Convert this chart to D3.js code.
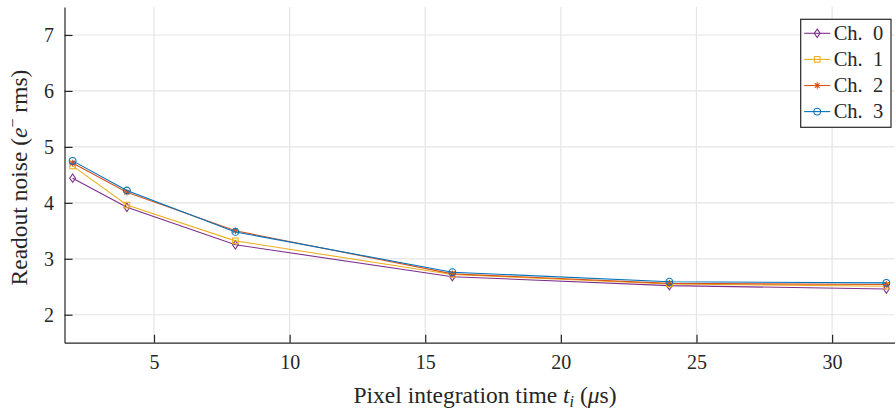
<!DOCTYPE html>
<html>
<head>
<meta charset="utf-8">
<script src="https://cdn.jsdelivr.net/npm/d3@7"></script>
<style>
  body { margin: 0; background: #fff; }
</style>
</head>
<body>
<div id="chart"></div>
<script>
// integration times (us)
var times = [2, 4, 8, 16, 24, 32];
var channels = ["Ch. 0", "Ch. 1", "Ch. 2", "Ch. 3"];
var ch0 = [4.44, 3.92, 3.25, 2.68, 2.52, 2.46];
var ch1 = [4.66, 3.96, 3.32, 2.72, 2.55, 2.51];
var ch2 = [4.71, 4.19, 3.50, 2.73, 2.56, 2.54];
var ch3 = [4.75, 4.22, 3.48, 2.76, 2.59, 2.57];
var xTicks = [5, 10, 15, 20, 25, 30];
var yTicks = [2, 3, 4, 5, 6, 7];
var colors = ["#7E2F8E", "#EDB120", "#D95319", "#0072BD"];
var markers = ["diamond", "square", "star", "circle"];

var FONT = "Liberation Serif";
var INK = "#262626";

var series = [ch0, ch1, ch2, ch3].map(function (vals, i) {
    return {
        name: channels[i], color: colors[i], marker: markers[i],
        values: vals.map(function (v, j) { return { t: times[j], v: v }; })
    };
});

var W = 896, H = 411;
var margin = { top: 7, right: 1.5, bottom: 68.3, left: 64.5 };
var width = W - margin.left - margin.right,
    height = H - margin.top - margin.bottom;

var svg = d3.select("#chart").append("svg")
    .attr("width", W).attr("height", H)
    .attr("font-family", FONT);
var g = svg.append("g")
    .attr("transform", "translate(" + margin.left + "," + margin.top + ")");

var x = d3.scaleLinear().domain([1.7, 32.3]).range([0, width]);
var y = d3.scaleLinear().domain([1.5, 7.5]).range([height, 0]);

// grid
g.selectAll(".gx").data(xTicks).enter().append("line")
    .attr("x1", function (d) { return x(d); }).attr("x2", function (d) { return x(d); })
    .attr("y1", 0).attr("y2", height)
    .attr("stroke", "#e5e5e5").attr("stroke-width", 1.2);
g.selectAll(".gy").data(yTicks).enter().append("line")
    .attr("x1", 0).attr("x2", width)
    .attr("y1", function (d) { return y(d); }).attr("y2", function (d) { return y(d); })
    .attr("stroke", "#e5e5e5").attr("stroke-width", 1.2);

// axes, ticks pointing inward
var xAxis = g.append("g")
    .attr("transform", "translate(0," + height + ")")
    .call(d3.axisBottom(x).tickValues(xTicks).tickFormat(d3.format("d"))
        .tickSizeInner(-8).tickSizeOuter(0).tickPadding(12.5));
var yAxis = g.append("g")
    .call(d3.axisLeft(y).tickValues(yTicks).tickFormat(d3.format("d"))
        .tickSizeInner(-8).tickSizeOuter(0).tickPadding(10.5));
[xAxis, yAxis].forEach(function (a) {
    a.attr("font-family", FONT);
    a.select(".domain").attr("stroke", INK).attr("stroke-width", 1.2);
    a.selectAll(".tick line").attr("stroke", INK).attr("stroke-width", 1.2);
    a.selectAll(".tick text").attr("font-size", 20).attr("font-family", FONT).attr("fill", INK);
});

// marker drawing
function drawMarker(sel, type, color) {
    if (type === "circle") {
        sel.append("circle").attr("r", 3.4).attr("fill", "none")
            .attr("stroke", color).attr("stroke-width", 1.1);
    } else if (type === "square") {
        sel.append("rect").attr("x", -2.8).attr("y", -2.8).attr("width", 5.6).attr("height", 5.6)
            .attr("fill", "none").attr("stroke", color).attr("stroke-width", 1.1);
    } else if (type === "diamond") {
        sel.append("path").attr("d", "M0,-4.2L2.9,0L0,4.2L-2.9,0Z")
            .attr("fill", "none").attr("stroke", color).attr("stroke-width", 1.1);
    } else if (type === "star") {
        sel.append("path").attr("d", "M-3.3,0H3.3M0,-3.3V3.3M-2.4,-2.4L2.4,2.4M-2.4,2.4L2.4,-2.4")
            .attr("fill", "none").attr("stroke", color).attr("stroke-width", 1.1);
    }
}

var line = d3.line()
    .x(function (d) { return x(d.t); })
    .y(function (d) { return y(d.v); });

series.forEach(function (s) {
    g.append("path").datum(s.values)
        .attr("d", line).attr("fill", "none")
        .attr("stroke", s.color).attr("stroke-width", 1.1);
    g.selectAll(null).data(s.values).enter().append("g")
        .attr("transform", function (d) { return "translate(" + x(d.t) + "," + y(d.v) + ")"; })
        .each(function () { drawMarker(d3.select(this), s.marker, s.color); });
});

// axis labels
svg.append("text")
    .attr("x", 485).attr("y", 403)
    .attr("text-anchor", "middle").attr("font-size", 23.5).attr("fill", INK)
    .attr("font-family", FONT)
    .html('Pixel integration time <tspan font-style="italic">t</tspan><tspan font-style="italic" font-size="16" dy="4">i</tspan><tspan dy="-4"> (</tspan><tspan font-style="italic">μ</tspan>s)');

svg.append("text")
    .attr("transform", "translate(27," + 177.5 + ") rotate(-90)")
    .attr("text-anchor", "middle").attr("font-size", 23.5).attr("fill", INK)
    .attr("font-family", FONT)
    .html('Readout noise (<tspan font-style="italic">e</tspan><tspan font-size="16" dy="-9">−</tspan><tspan dy="9"> rms)</tspan>');

// legend
var leg = svg.append("g").attr("transform", "translate(800.7,19.3)");
leg.append("rect").attr("width", 90.3).attr("height", 108)
    .attr("fill", "#fff").attr("stroke", INK).attr("stroke-width", 1.2);
series.forEach(function (s, i) {
    var row = leg.append("g").attr("transform", "translate(0," + (14 + i * 26.1) + ")");
    row.append("line").attr("x1", 3.5).attr("x2", 29.5)
        .attr("stroke", s.color).attr("stroke-width", 1.1);
    drawMarker(row.append("g").attr("transform", "translate(16.5,0)"), s.marker, s.color);
    row.append("text").attr("x", 33).attr("y", 6.8).attr("font-size", 20.5)
        .attr("font-family", FONT).attr("fill", INK)
        .attr("xml:space", "preserve").text(s.name.replace(" ", "  "));
});
</script>
</body>
</html>
